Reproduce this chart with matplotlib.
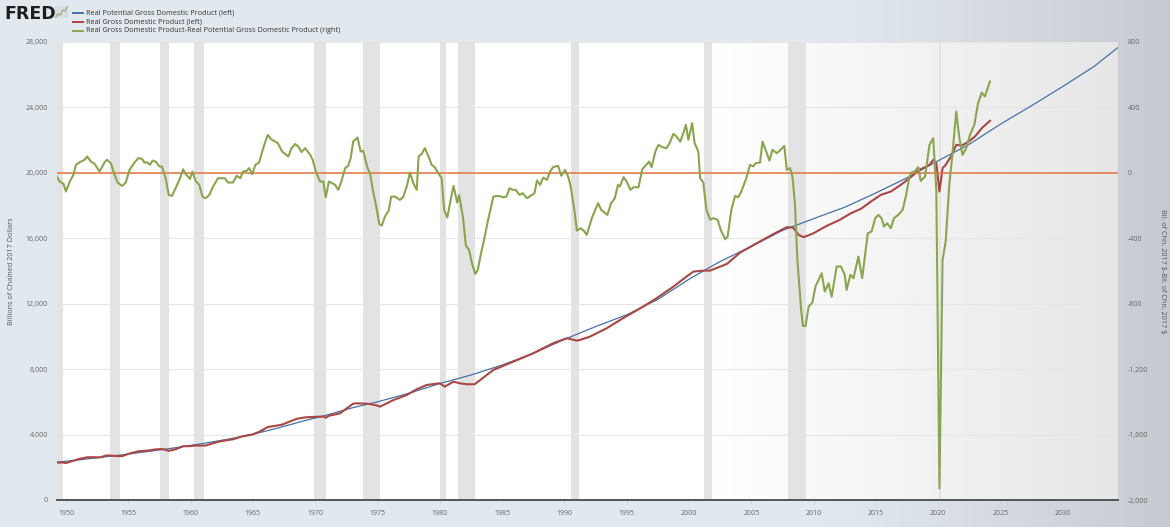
import numpy as np
import matplotlib
matplotlib.use("Agg")
import matplotlib.pyplot as plt
from matplotlib.lines import Line2D
from matplotlib.ticker import FuncFormatter

# Real potential GDP (left axis, billions of chained 2017 dollars)
pot_year = [1949.25, 1951.0, 1953.0, 1955.0, 1957.0, 1959.0, 1961.0, 1963.0, 1965.0, 1967.0,
            1969.0, 1971.0, 1973.0, 1975.0, 1977.5, 1980.0, 1982.5, 1985.0, 1987.5, 1990.0,
            1992.5, 1995.0, 1997.5, 2000.0, 2002.5, 2005.0, 2007.5, 2010.0, 2012.5, 2015.0,
            2017.5, 2020.0, 2022.5, 2025.0, 2027.5, 2030.0, 2032.5, 2034.75]
pot_val = [2310, 2450, 2625, 2810, 3005, 3220, 3455, 3715, 4020, 4400,
           4820, 5210, 5640, 6000, 6520, 7120, 7640, 8250, 8960, 9820,
           10600, 11320, 12260, 13500, 14580, 15500, 16480, 17200, 17900, 18770,
           19700, 20740, 21750, 22980, 24110, 25280, 26500, 27860]

# Real GDP (left axis)
gdp_year = [1949.25, 1949.8, 1950.0, 1950.6, 1951.1, 1951.7, 1952.3, 1952.7, 1953.3, 1953.9,
            1954.5, 1955.1, 1955.8, 1956.55, 1957.2, 1957.7, 1958.25, 1958.8, 1959.4, 1959.95,
            1960.4, 1961.2, 1961.8, 1962.5, 1963.4, 1964.2, 1964.95, 1965.5, 1966.2, 1967.0,
            1967.35, 1968.5, 1969.2, 1969.8, 1970.65, 1970.85, 1971.1, 1972.0, 1973.05, 1973.4,
            1974.3, 1974.9, 1975.2, 1976.3, 1977.35, 1978.15, 1978.95, 1980.0, 1980.4, 1981.1,
            1981.6, 1982.15, 1982.8, 1984.3, 1985.9, 1987.5, 1989.1, 1990.2, 1991.0, 1991.25,
            1992.05, 1993.4, 1994.7, 1996.1, 1997.4, 1998.75, 1999.8, 2000.35, 2001.15, 2001.7,
            2002.5, 2003.05, 2004.1, 2005.45, 2006.8, 2007.85, 2008.35, 2008.8, 2009.2, 2010.0,
            2011.05, 2012.1, 2013.0, 2013.8, 2014.6, 2015.4, 2016.2, 2017.0, 2017.7, 2018.5,
            2019.3, 2019.6, 2019.85, 2020.1, 2020.35, 2020.6, 2021.1, 2021.45, 2021.9, 2022.45,
            2022.95, 2023.5, 2024.15]
gdp_val = [2290, 2288, 2260, 2400, 2520, 2610, 2615, 2605, 2730, 2695,
           2680, 2840, 2975, 3018, 3094, 3119, 3005, 3106, 3287, 3293,
           3331, 3325, 3471, 3607, 3711, 3898, 4002, 4163, 4462, 4560,
           4610, 4960, 5050, 5080, 5097, 5030, 5150, 5300, 5890, 5910,
           5880, 5794, 5708, 6116, 6422, 6770, 7034, 7138, 6930, 7236,
           7138, 7077, 7077, 7951, 8459, 8972, 9584, 9890, 9743, 9786,
           9988, 10501, 11113, 11725, 12336, 13046, 13657, 13963, 14024, 14024,
           14269, 14434, 15125, 15700, 16269, 16679, 16654, 16208, 16066, 16311,
           16758, 17125, 17535, 17800, 18245, 18655, 18857, 19266, 19676, 20183,
           20489, 20795, 20590, 18857, 20287, 20489, 21101, 21713, 21670, 21915,
           22220, 22734, 23180]

# Real GDP minus real potential GDP (right axis)
gap_year = [1949.25, 1949.5, 1949.8, 1950.0, 1950.3, 1950.6, 1950.8, 1951.1, 1951.5, 1951.7,
            1952.0, 1952.3, 1952.7, 1953.1, 1953.3, 1953.6, 1953.9, 1954.15, 1954.5, 1954.8,
            1955.1, 1955.5, 1955.8, 1956.1, 1956.3, 1956.55, 1956.75, 1956.95, 1957.2, 1957.5,
            1957.7, 1958.0, 1958.25, 1958.5, 1958.8, 1959.15, 1959.4, 1959.6, 1959.95, 1960.15,
            1960.4, 1960.7, 1960.95, 1961.2, 1961.5, 1961.8, 1962.2, 1962.5, 1962.75, 1963.0,
            1963.4, 1963.7, 1964.0, 1964.2, 1964.5, 1964.7, 1964.95, 1965.2, 1965.5, 1965.75,
            1966.0, 1966.2, 1966.45, 1967.0, 1967.35, 1967.85, 1968.1, 1968.4, 1968.65, 1968.9,
            1969.2, 1969.6, 1969.8, 1970.05, 1970.4, 1970.65, 1970.85, 1971.1, 1971.6, 1971.85,
            1972.1, 1972.4, 1972.65, 1972.85, 1973.05, 1973.4, 1973.65, 1973.85, 1974.2, 1974.4,
            1974.65, 1974.9, 1975.15, 1975.35, 1975.6, 1975.9, 1976.1, 1976.4, 1976.8, 1977.05,
            1977.35, 1977.6, 1977.9, 1978.15, 1978.3, 1978.55, 1978.8, 1979.1, 1979.35, 1979.6,
            1979.85, 1980.15, 1980.35, 1980.6, 1980.9, 1981.1, 1981.4, 1981.55, 1981.85, 1982.1,
            1982.35, 1982.6, 1982.85, 1983.05, 1983.3, 1983.55, 1983.85, 1984.3, 1984.7, 1985.1,
            1985.35, 1985.6, 1985.85, 1986.1, 1986.4, 1986.65, 1987.0, 1987.4, 1987.6, 1987.8,
            1988.05, 1988.3, 1988.6, 1988.85, 1989.1, 1989.5, 1989.75, 1990.05, 1990.3, 1990.5,
            1990.8, 1991.0, 1991.3, 1991.55, 1991.8, 1992.2, 1992.7, 1992.95, 1993.45, 1993.75,
            1994.05, 1994.3, 1994.45, 1994.75, 1995.0, 1995.3, 1995.55, 1995.95, 1996.25, 1996.5,
            1996.8, 1997.0, 1997.3, 1997.55, 1997.85, 1998.2, 1998.45, 1998.75, 1999.0, 1999.3,
            1999.55, 1999.75, 1999.95, 2000.25, 2000.45, 2000.75, 2000.9, 2001.15, 2001.4, 2001.7,
            2001.95, 2002.3, 2002.55, 2002.9, 2003.1, 2003.4, 2003.7, 2003.95, 2004.2, 2004.6,
            2004.9, 2005.15, 2005.35, 2005.7, 2005.9, 2006.2, 2006.45, 2006.7, 2007.05, 2007.35,
            2007.65, 2007.85, 2008.1, 2008.3, 2008.5, 2008.7, 2009.0, 2009.15, 2009.35, 2009.6,
            2009.9, 2010.15, 2010.65, 2010.9, 2011.2, 2011.45, 2011.85, 2012.2, 2012.5, 2012.65,
            2012.95, 2013.2, 2013.6, 2013.9, 2014.15, 2014.35, 2014.65, 2014.95, 2015.2, 2015.45,
            2015.65, 2015.9, 2016.2, 2016.45, 2016.8, 2017.15, 2017.4, 2017.7, 2017.85, 2018.1,
            2018.4, 2018.6, 2018.95, 2019.3, 2019.6, 2019.85, 2020.1, 2020.35, 2020.6, 2020.9,
            2021.1, 2021.45, 2021.7, 2021.95, 2022.25, 2022.55, 2022.9, 2023.2, 2023.5, 2023.75,
            2024.15]
gap_val = [-22, -53, -67, -114, -53, -12, 49, 65, 80, 100,
           69, 55, 8, 65, 80, 59, -12, -59, -80, -59,
           18, 63, 90, 86, 63, 63, 49, 75, 69, 39,
           39, -33, -135, -141, -94, -33, 22, -6, -37, 8,
           -49, -73, -145, -155, -135, -84, -33, -33, -33, -59,
           -59, -18, -33, 8, 12, 29, -8, 49, 63, 130,
           191, 232, 206, 182, 130, 100, 151, 176, 161, 127,
           151, 110, 80, 8, -53, -53, -149, -53, -73, -104,
           -53, 29, 43, 90, 191, 216, 130, 136, 29, -2,
           -114, -206, -314, -322, -267, -230, -145, -145, -165, -149,
           -84, 2, -67, -104, 100, 116, 151, 100, 49, 35,
           2, -33, -226, -273, -155, -80, -181, -135, -267, -446,
           -471, -557, -618, -593, -495, -410, -298, -145, -141, -149,
           -145, -94, -104, -104, -135, -124, -155, -135, -124, -47,
           -73, -29, -43, 8, 35, 43, -18, 18, -22, -80,
           -226, -353, -339, -353, -379, -277, -185, -226, -257, -185,
           -155, -73, -84, -26, -53, -104, -88, -88, 22, 43,
           69, 35, 130, 171, 157, 151, 182, 239, 222, 191,
           243, 294, 202, 304, 182, 130, -33, -59, -226, -287,
           -277, -287, -349, -406, -390, -226, -141, -149, -114, -33,
           49, 39, 59, 63, 191, 130, 75, 141, 120, 141,
           165, 18, 29, -22, -185, -532, -838, -936, -936, -818,
           -793, -695, -614, -726, -675, -757, -573, -573, -624, -716,
           -624, -644, -512, -644, -491, -369, -359, -277, -257, -277,
           -328, -308, -339, -277, -257, -226, -145, -22, 2, 8,
           35, -49, -22, 171, 212, -104, -1929, -532, -420, -63,
           80, 375, 212, 110, 151, 232, 294, 426, 491, 467,
           558]

# NBER recessions (decimal years)
rec_start = [1948.83, 1953.5, 1957.58, 1960.25, 1969.92, 1973.83, 1980.0, 1981.5,
             1990.5, 2001.17, 2007.92, 2020.08]
rec_end = [1949.75, 1954.33, 1958.25, 1961.08, 1970.83, 1975.17, 1980.5, 1982.83,
           1991.17, 2001.83, 2009.42, 2020.25]

x_ticks = list(range(1950, 2031, 5))
left_ticks = list(range(0, 28001, 4000))
right_ticks = list(range(-2000, 801, 400))

blue = '#4572a7'
red = '#aa4643'
green = '#89a54e'
orange = '#e8743b'
txt = '#666666'

W, H = 1170, 527
fig = plt.figure(figsize=(W / 100, H / 100), dpi=100)
plt.rcParams['font.family'] = ['Open Sans', 'DejaVu Sans']

# page background, darkening towards the right
bg = fig.add_axes([0, 0, 1, 1], zorder=-10)
gx = np.linspace(0, 1, 400)
t = np.clip((gx - 0.68) / 0.32, 0, 1) ** 1.3
c0 = np.array([0.886, 0.914, 0.941])
c1 = np.array([0.78, 0.79, 0.815])
grad = c0[None, :] * (1 - t[:, None]) + c1[None, :] * t[:, None]
bg.imshow(grad[None, :, :], aspect='auto', extent=(0, 1, 0, 1))
bg.set_axis_off()

ax = fig.add_axes([57 / W, 1 - 500 / H, (1118 - 57) / W, (500 - 42) / H])
ax.set_facecolor('white')

# plot area fades to light gray at the right
pt = np.clip((gx - 0.62) / 0.38, 0, 1)
p0 = np.array([1.0, 1.0, 1.0])
p1 = np.array([0.905, 0.905, 0.91])
pgrad = p0[None, :] * (1 - pt[:, None]) + p1[None, :] * pt[:, None]
ax.imshow(pgrad[None, :, :], aspect='auto', extent=(0, 1, 0, 1),
          transform=ax.transAxes, zorder=0.2)

for s, e in zip(rec_start, rec_end):
    ax.axvspan(s, e, color='#e3e3e3', lw=0, zorder=1)

ax.plot(pot_year, pot_val, color=blue, lw=0.9, zorder=3)
ax.plot(gdp_year, gdp_val, color=red, lw=1.5, zorder=3)

ax.set_xlim(1949.28, 2034.43)
ax.set_ylim(0, 28000)
ax.set_yticks(left_ticks)
ax.yaxis.set_major_formatter(FuncFormatter(lambda v, p: f"{v:,.0f}"))
ax.set_xticks(x_ticks)
ax.set_xticklabels([str(y) for y in x_ticks])
ax.grid(axis='y', color='#e6e6e6', lw=0.8)
ax.set_axisbelow(True)
for sp in ['top', 'left', 'right']:
    ax.spines[sp].set_visible(False)
ax.spines['bottom'].set_color('#555555')
ax.spines['bottom'].set_linewidth(1.4)
ax.spines['bottom'].set_zorder(5)
ax.tick_params(axis='y', length=0, pad=6.5, labelsize=5, labelcolor=txt)
ax.tick_params(axis='x', length=3, width=0.5, color='#c8d2e0', pad=4,
               labelsize=5, labelcolor=txt)

ax2 = ax.twinx()
ax2.set_ylim(-2000, 800)
ax2.set_yticks(right_ticks)
ax2.yaxis.set_major_formatter(FuncFormatter(lambda v, p: f"{v:,.0f}"))
ax2.axhline(0, color=orange, lw=1.1, zorder=2)
ax2.plot(gap_year, gap_val, color=green, lw=1.5, zorder=3)
for sp in ['top', 'left', 'right', 'bottom']:
    ax2.spines[sp].set_visible(False)
ax2.tick_params(axis='y', length=0, pad=7, labelsize=5, labelcolor=txt)
ax2.set_xlim(1949.28, 2034.43)

fig.text(12 / W, 1 - 271 / H, 'Billions of Chained 2017 Dollars', rotation=90,
         ha='center', va='center', fontsize=5.2, color='#555555')
fig.text(1162 / W, 1 - 271 / H, r'Bil. of Chn. 2017 \$-Bil. of Chn. 2017 \$', rotation=270,
         ha='center', va='center', fontsize=5.2, color='#555555')

# header: logo and legend
fig.text(4 / W, 1 - 14 / H, 'FRED', fontsize=12.5, fontweight='heavy',
         family='DejaVu Sans', color='#1e1e1e', va='center', ha='left')
icon = fig.add_axes([55 / W, 1 - 18 / H, 13 / W, 12 / H])
icon.set_facecolor('#d8dde3')
icon_trend = [1, 2, 1.6, 3, 2.7, 4]
icon.plot(icon_trend, color='#7a9a52', lw=0.6)
icon.set_xticks([])
icon.set_yticks([])
for sp in icon.spines.values():
    sp.set_visible(False)

legend_names = ['Real Potential Gross Domestic Product (left)',
                'Real Gross Domestic Product (left)',
                'Real Gross Domestic Product-Real Potential Gross Domestic Product (right)']
legend_colors = [blue, red, green]
for i, (name, col) in enumerate(zip(legend_names, legend_colors)):
    yy = 1 - (13 + 9 * i) / H
    fig.add_artist(Line2D([73 / W, 83 / W], [yy, yy], color=col, lw=1.4))
    fig.text(86 / W, yy, name, fontsize=5.2, color='#333333', va='center', ha='left')

fig.savefig('out.png', dpi=100)
